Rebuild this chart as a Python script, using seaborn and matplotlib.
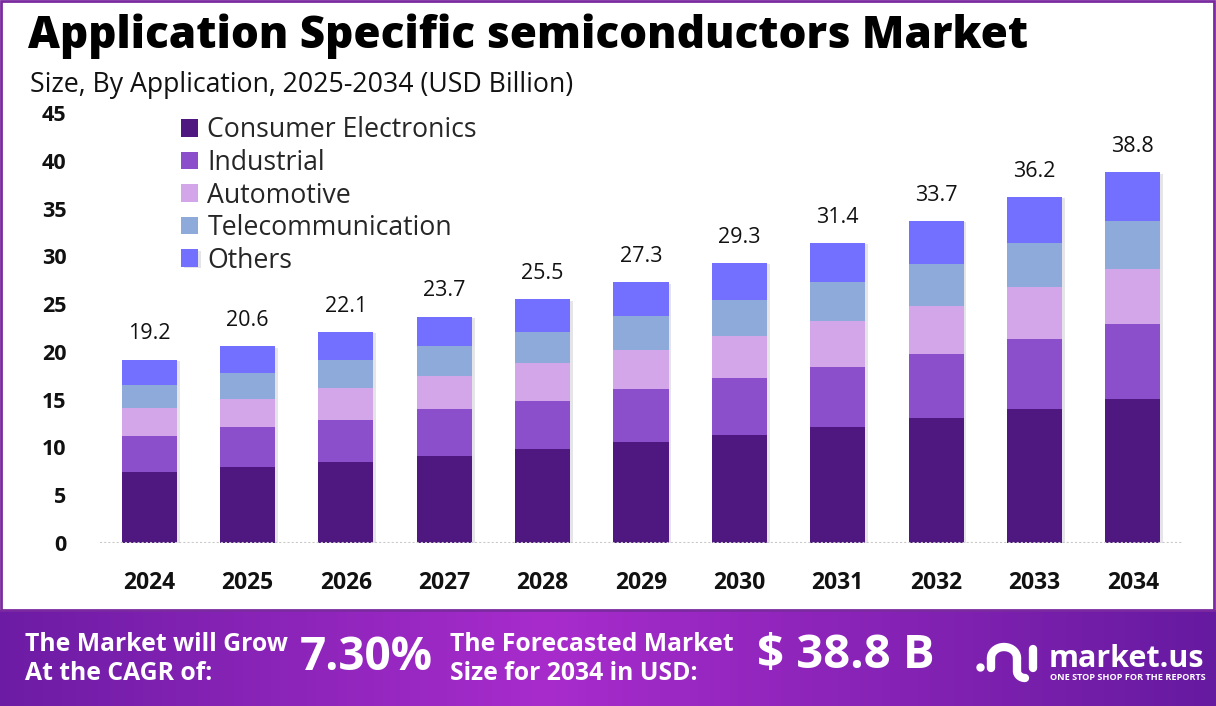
import numpy as np
import pandas as pd
import seaborn as sns
import matplotlib.pyplot as plt
import matplotlib.patheffects as pe
from matplotlib.patches import Rectangle

years = ["2024", "2025", "2026", "2027", "2028", "2029", "2030", "2031", "2032", "2033", "2034"]
consumer = [7.4, 8.0, 8.5, 9.15, 9.85, 10.6, 11.35, 12.15, 13.1, 14.05, 15.1]
industrial = [3.8, 4.1, 4.4, 4.85, 5.05, 5.5, 5.9, 6.3, 6.7, 7.25, 7.8]
automotive = [2.9, 3.0, 3.35, 3.5, 3.9, 4.1, 4.4, 4.75, 5.05, 5.45, 5.8]
telecom = [2.4, 2.7, 2.85, 3.15, 3.3, 3.6, 3.8, 4.1, 4.4, 4.65, 5.05]
others = [2.7, 2.8, 3.0, 3.05, 3.4, 3.5, 3.85, 4.1, 4.45, 4.8, 5.05]
totals = [19.2, 20.6, 22.1, 23.7, 25.5, 27.3, 29.3, 31.4, 33.7, 36.2, 38.8]

segments = ["Consumer Electronics", "Industrial", "Automotive", "Telecommunication", "Others"]
colors = ["#4f1780", "#8b4fcb", "#d3a6ea", "#8eaadb", "#7470ff"]

sns.set_theme(style="white")
plt.rcParams["font.family"] = ["Open Sans", "DejaVu Sans"]

df = pd.DataFrame({"year": years, "Consumer Electronics": consumer, "Industrial": industrial,
                   "Automotive": automotive, "Telecommunication": telecom, "Others": others})
cum = df[segments].cumsum(axis=1)

fig = plt.figure(figsize=(12.16, 7.06), dpi=100)
ax = fig.add_axes([100 / 1216, 163 / 706, 1082 / 1216, 430 / 706])

# draw tallest stack first, smaller ones on top
for i in reversed(range(len(segments))):
    sns.barplot(x=df["year"], y=cum[segments[i]], color=colors[i], width=0.56,
                saturation=1, ax=ax, label=segments[i], edgecolor="none")
    if i == len(segments) - 1:
        for p in ax.patches:
            p.set_path_effects([pe.SimplePatchShadow(offset=(2, -1), alpha=0.12), pe.Normal()])

ax.set_ylim(0, 45)
ax.set_xlim(-0.5, 10.5)
ax.set_yticks(range(0, 46, 5))
ax.set_xlabel("")
ax.set_ylabel("")
for s in ax.spines.values():
    s.set_visible(False)
ax.axhline(0, color="#c8c8c8", lw=1.5, ls=(0, (1, 1)))
ax.tick_params(axis="y", length=0, pad=24, labelsize=15.5)
ax.tick_params(axis="x", length=0, pad=20, labelsize=16.5)
for t in ax.get_xticklabels() + ax.get_yticklabels():
    t.set_fontweight("bold")
    t.set_color("#111111")

for i, tot in enumerate(totals):
    ax.annotate(f"{tot}", (i, tot), xytext=(0, 11), textcoords="offset points",
                ha="center", va="bottom", fontsize=15.5, color="#111111")

handles, labels = ax.get_legend_handles_labels()
order = [labels.index(s) for s in segments]
ax.legend([handles[k] for k in order], segments, loc="upper left",
          bbox_to_anchor=(0.075, 0.992), frameon=False, fontsize=19.2,
          borderpad=0, borderaxespad=0,
          handlelength=0.64, handleheight=0.64, handletextpad=0.34, labelspacing=0.17)

# title block
fig.text(28 / 1216, 1 - 36 / 706, "Application Specific semiconductors Market",
         fontsize=31.7, fontweight="heavy", va="center", color="black")
fig.text(30 / 1216, 1 - 85 / 706, "Size, By Application, 2025-2034 (USD Billion)",
         fontsize=19.2, va="center", color="#111111")

# frame border
fig.add_artist(Rectangle((1 / 1216, 96 / 706), 1213 / 1216, 609 / 706, transform=fig.transFigure,
                         fill=False, edgecolor="#7b2aa0", lw=2))

# bottom banner
bax = fig.add_axes([0, 0, 1, 96 / 706])
grad = np.linspace(0, 1, 400)
prof = np.interp(grad, [0, 0.45, 1], [0.1, 1, 0.0])
c0 = np.array([0x66, 0x1a, 0xa0]) / 255
c1 = np.array([0xa8, 0x2c, 0xcc]) / 255
img = c0[None, :] + (c1 - c0)[None, :] * prof[:, None]
bax.imshow(img[None, :, :], aspect="auto", extent=(0, 1216, 706, 610))
bax.set_xlim(0, 1216)
bax.set_ylim(706, 610)
bax.axis("off")

bax.text(25, 659, "The Market will Grow\nAt the CAGR of:", color="white", fontsize=17.8,
         fontweight="bold", va="center", ha="left", linespacing=1.2)
bax.text(300, 657, "7.30%", color="white", fontsize=33, fontweight="bold", va="center")
bax.text(450, 659, "The Forecasted Market\nSize for 2034 in USD:", color="white", fontsize=17.8,
         fontweight="bold", va="center", ha="left", linespacing=1.2)
bax.text(757, 655, "$ 38.8 B", color="white", fontsize=34, fontweight="bold", va="center")

# logo
t = np.linspace(np.pi, 0, 30)
bax.plot(1004 + 13 * np.cos(t), 658 - 11 * np.sin(t), color="white", lw=6, solid_capstyle="round")
bax.plot([991, 991], [658, 668], color="white", lw=6, solid_capstyle="round")
tc = np.linspace(np.pi, np.pi / 2, 15)
bax.plot(np.r_[1017, 1017, 1025 + 8 * np.cos(tc)], np.r_[658, 671, 671 + 7 * np.sin(tc)],
         color="white", lw=6, solid_capstyle="round")
bax.plot([1033, 1033], [649, 668], color="white", lw=6, solid_capstyle="round")
bax.plot([980], [667], "o", color="white", ms=5)
bax.text(1049, 667, "market.us", color="white", fontsize=22, fontweight="bold", va="baseline")
bax.text(1050, 677, "ONE STOP SHOP FOR THE REPORTS", color="white", fontsize=6.6,
         fontweight="bold", va="center")

fig.savefig("out.png", dpi=100)
